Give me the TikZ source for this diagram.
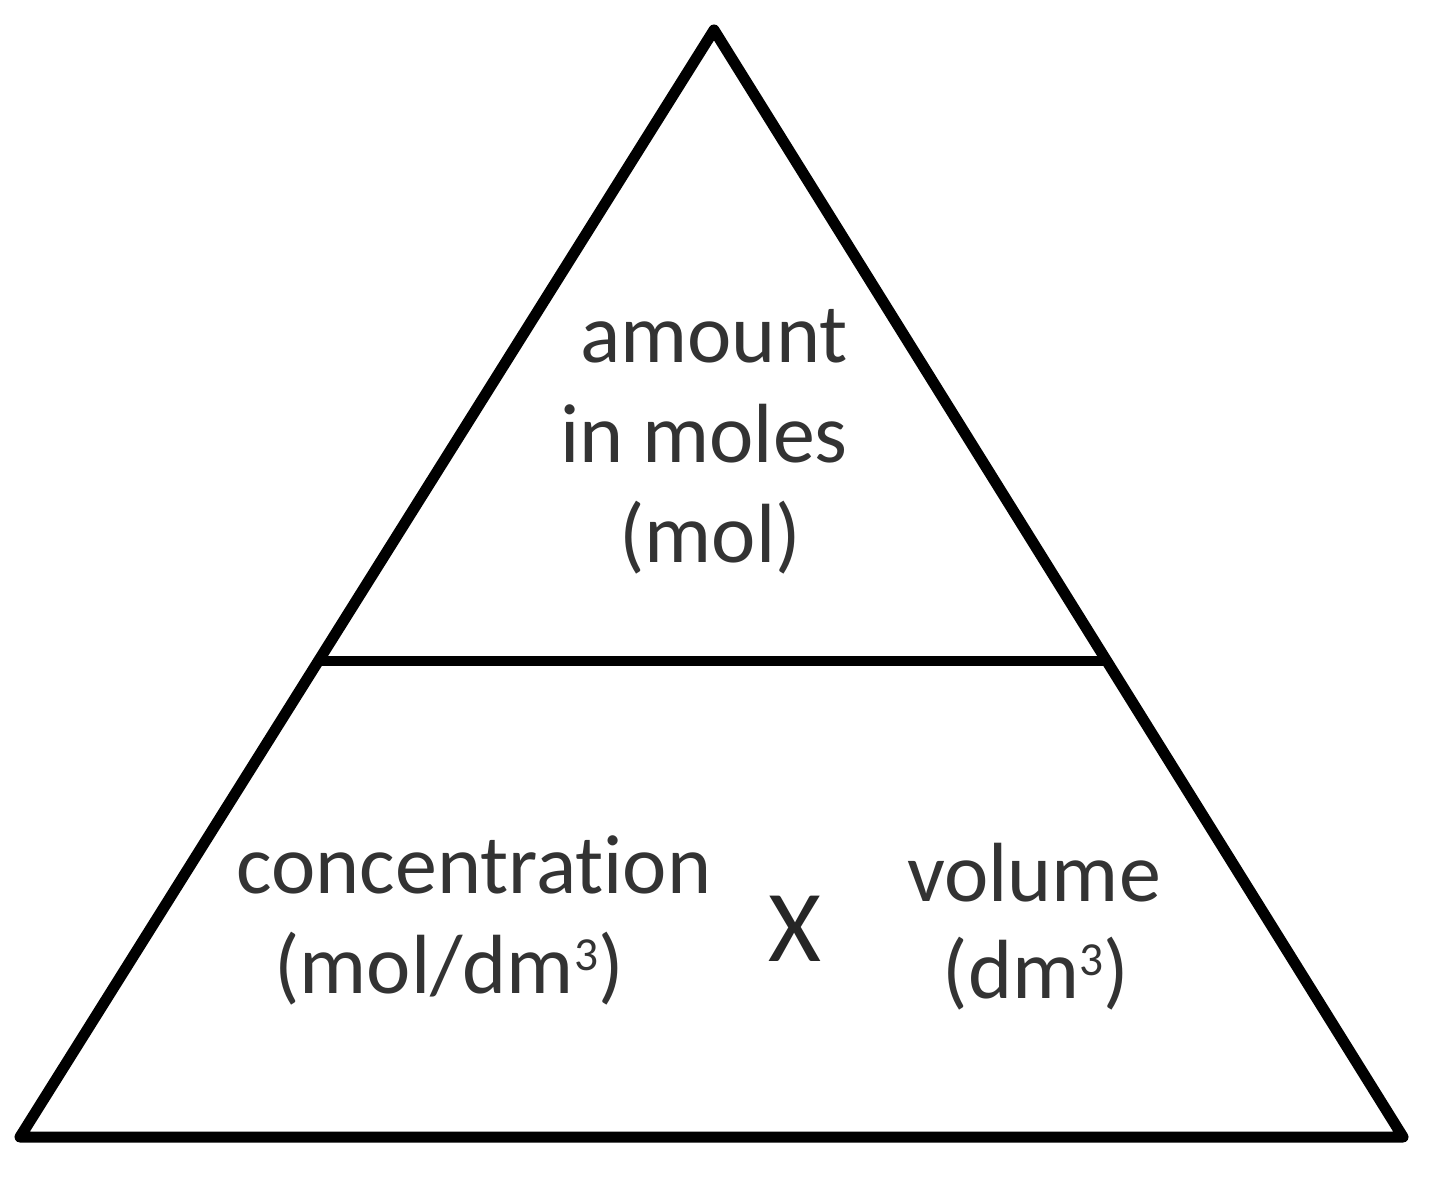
\documentclass[tikz,border=0pt]{standalone}
\usepackage{fontspec}
\setmainfont[Ligatures=NoCommon]{Carlito}
\usetikzlibrary{calc}
\newcommand{\cubed}{\raisebox{13pt}{\fontsize{27}{29}\selectfont 3}}
\begin{document}
\begin{tikzpicture}[x=0.02cm,y=-0.02cm,
  edge/.style={line width=0.22cm,black,line join=round},
  lbl/.style={anchor=base,inner sep=0pt,text=black!80,font=\fontsize{47.8}{57}\selectfont},
  times/.style={anchor=center,inner sep=0pt,text=black!85,font=\fontsize{58}{66}\selectfont}]
\useasboundingbox[fill=white] (0,0) rectangle (1440,1185);
\coordinate (apex) at (714,30);
\coordinate (bl) at (20,1137);
\coordinate (br) at (1403,1137);
\coordinate (ml) at ($(apex)!0.57!(bl)$);
\coordinate (mr) at ($(apex)!0.57!(br)$);
\draw[edge] (apex) -- (br) -- (bl) -- cycle;
\draw[edge] (ml) -- (mr);
\node[lbl] (t1) at (714,363) {amount};
\node[lbl] (t2) at (704,463) {in moles};
\node[lbl] (t3) at (710,562) {(mol)};
\node[lbl] (c1) at (474,893) {concentration};
\node[lbl] (c2) at (449,993) {(mol/dm\cubed)};
\node[times] (x) at (795,929) {X};
\node[lbl] (v1) at (1034,901) {volume};
\node[lbl] (v2) at (1036,998) {(dm\cubed)};
\end{tikzpicture}
\end{document}
